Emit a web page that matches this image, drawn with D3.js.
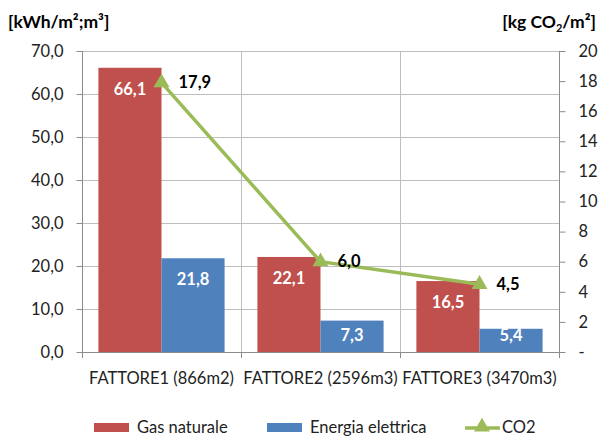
<!DOCTYPE html>
<html>
<head>
<meta charset="utf-8">
<script src="https://cdn.jsdelivr.net/npm/d3@7"></script>
<style>
  html, body { margin: 0; padding: 0; background: #fff; }
  svg { display: block; font-family: Lato, "Noto Sans", sans-serif; }
</style>
</head>
<body>
<svg id="chart" width="603" height="437"></svg>
<script>
// Energy use per factory and CO2 emissions
const categories = ["FATTORE1 (866m2)", "FATTORE2 (2596m3)", "FATTORE3 (3470m3)"];
const gasValues = [66.1, 22.1, 16.5];
const elecValues = [21.8, 7.3, 5.4];
const co2Values = [17.9, 6.0, 4.5];
const leftTicks = [0, 10, 20, 30, 40, 50, 60, 70];
const rightTicks = [0, 2, 4, 6, 8, 10, 12, 14, 16, 18, 20];
const seriesNames = ["Gas naturale", "Energia elettrica", "CO2"];

const colors = { gas: "#C0504D", elec: "#4F81BD", co2: "#9BBB59" };
const fmt = v => v.toFixed(1).replace(".", ",");
const FS = 16.5;

const svg = d3.select("#chart");
const plot = { left: 82, right: 559, top: 51, bottom: 352 };

const x = d3.scaleBand().domain(categories).range([plot.left, plot.right]).paddingInner(0).paddingOuter(0);
const inner = d3.scaleBand().domain(["gas", "elec"]).range([0, x.bandwidth()]).paddingInner(0).paddingOuter(0.26);
const yL = d3.scaleLinear().domain([0, 70]).range([plot.bottom, plot.top]);
const yR = d3.scaleLinear().domain([0, 20]).range([plot.bottom, plot.top]);

const gridColor = "#BEBEBE";
const axisColor = "#8C8C8C";

// horizontal gridlines
svg.append("g").selectAll("line").data(leftTicks.slice(1)).join("line")
  .attr("x1", plot.left).attr("x2", plot.right)
  .attr("y1", d => Math.round(yL(d)) + 0.5).attr("y2", d => Math.round(yL(d)) + 0.5)
  .attr("stroke", gridColor).attr("stroke-width", 1);

// vertical gridlines at category boundaries
const bounds = categories.map(c => x(c)).concat([plot.right]);
svg.append("g").selectAll("line").data(bounds.slice(1, -1)).join("line")
  .attr("x1", d => Math.round(d) + 0.5).attr("x2", d => Math.round(d) + 0.5)
  .attr("y1", plot.top).attr("y2", plot.bottom)
  .attr("stroke", gridColor).attr("stroke-width", 1);

// left axis
const axL = svg.append("g").attr("transform", `translate(${plot.left + 0.5},0)`)
  .call(d3.axisLeft(yL).tickValues(leftTicks).tickFormat(fmt).tickSize(6).tickPadding(13));
axL.select(".domain").attr("stroke", axisColor).attr("d", `M0,${plot.top}V${plot.bottom}`);
axL.selectAll(".tick line").attr("stroke", axisColor);
axL.selectAll(".tick text").attr("font-size", FS).attr("fill", "#222").attr("font-family", "Lato, sans-serif");

// right axis
const axR = svg.append("g").attr("transform", `translate(${plot.right + 0.5},0)`)
  .call(d3.axisRight(yR).tickValues(rightTicks).tickFormat(d => d === 0 ? "-" : d).tickSize(6).tickPadding(13));
axR.select(".domain").attr("stroke", axisColor).attr("d", `M0,${plot.top}V${plot.bottom}`);
axR.selectAll(".tick line").attr("stroke", axisColor);
axR.selectAll(".tick text").attr("font-size", FS).attr("fill", "#222").attr("font-family", "Lato, sans-serif");

// bottom axis
const axB = svg.append("g").attr("transform", `translate(0,${plot.bottom + 0.5})`)
  .call(d3.axisBottom(x).tickSize(0).tickPadding(20));
axB.select(".domain").attr("stroke", axisColor).attr("d", `M${plot.left},0H${plot.right}`);
axB.selectAll(".tick text").attr("font-size", FS).attr("fill", "#222").attr("font-family", "Lato, sans-serif");
svg.append("g").selectAll("line").data(bounds).join("line")
  .attr("x1", d => Math.round(d) + 0.5).attr("x2", d => Math.round(d) + 0.5)
  .attr("y1", plot.bottom).attr("y2", plot.bottom + 6)
  .attr("stroke", axisColor);

// bars with value labels inside the top
const rows = categories.map((c, i) => ({ cat: c, gas: gasValues[i], elec: elecValues[i], co2: co2Values[i] }));
const barG = svg.append("g");
["gas", "elec"].forEach(key => {
  barG.selectAll(`.bar-${key}`).data(rows).join("rect")
    .attr("class", `bar-${key}`)
    .attr("x", d => x(d.cat) + inner(key))
    .attr("width", inner.bandwidth())
    .attr("y", d => yL(d[key]))
    .attr("height", d => yL(0) - yL(d[key]))
    .attr("fill", colors[key]);
  barG.selectAll(`.lbl-${key}`).data(rows).join("text")
    .attr("class", `lbl-${key}`)
    .attr("x", d => x(d.cat) + inner(key) + inner.bandwidth() / 2)
    .attr("y", d => Math.min(yL(d[key]) + 21, plot.bottom - 17))
    .attr("dy", "0.35em")
    .attr("text-anchor", "middle")
    .attr("font-size", FS).attr("font-weight", "bold").attr("fill", "#fff")
    .text(d => fmt(d[key]));
});

// CO2 line on the right axis
const cx = d => x(d.cat) + x.bandwidth() / 2;
svg.append("path").datum(rows)
  .attr("d", d3.line().x(cx).y(d => yR(d.co2)))
  .attr("fill", "none").attr("stroke", colors.co2).attr("stroke-width", 3.5);
const tri = d3.symbol().type(d3.symbolTriangle).size(110);
svg.append("g").selectAll("path").data(rows).join("path")
  .attr("transform", d => `translate(${cx(d)},${yR(d.co2)})`)
  .attr("d", tri).attr("fill", colors.co2);
svg.append("g").selectAll("text").data(rows).join("text")
  .attr("x", d => cx(d) + 17).attr("y", d => yR(d.co2))
  .attr("dy", "0.35em")
  .attr("font-size", FS).attr("font-weight", "bold").attr("fill", "#000")
  .text(d => fmt(d.co2));

// axis titles
const tl = svg.append("text").attr("x", 8).attr("y", 28).attr("font-size", 17.5).attr("font-weight", "bold").attr("fill", "#000");
tl.text("[kWh/m²;m³]");
const tr = svg.append("text").attr("x", 596).attr("y", 28).attr("text-anchor", "end")
  .attr("font-size", 17.5).attr("font-weight", "bold").attr("fill", "#000");
tr.append("tspan").text("[kg CO");
tr.append("tspan").attr("font-size", 11).attr("dy", 4).text("2");
tr.append("tspan").attr("dy", -4).text("/m²]");

// legend
const lg = svg.append("g").attr("font-size", FS).attr("fill", "#222");
lg.append("rect").attr("x", 94).attr("y", 423).attr("width", 35).attr("height", 9).attr("fill", colors.gas);
lg.append("text").attr("x", 137).attr("y", 432.5).text(seriesNames[0]);
lg.append("rect").attr("x", 267).attr("y", 423).attr("width", 35).attr("height", 9).attr("fill", colors.elec);
lg.append("text").attr("x", 310).attr("y", 432.5).text(seriesNames[1]);
lg.append("line").attr("x1", 465).attr("x2", 500).attr("y1", 428).attr("y2", 428)
  .attr("stroke", colors.co2).attr("stroke-width", 3.5);
lg.append("path").attr("transform", "translate(482,427)").attr("d", tri).attr("fill", colors.co2);
lg.append("text").attr("x", 502).attr("y", 432.5).text(seriesNames[2]);
</script>
</body>
</html>
